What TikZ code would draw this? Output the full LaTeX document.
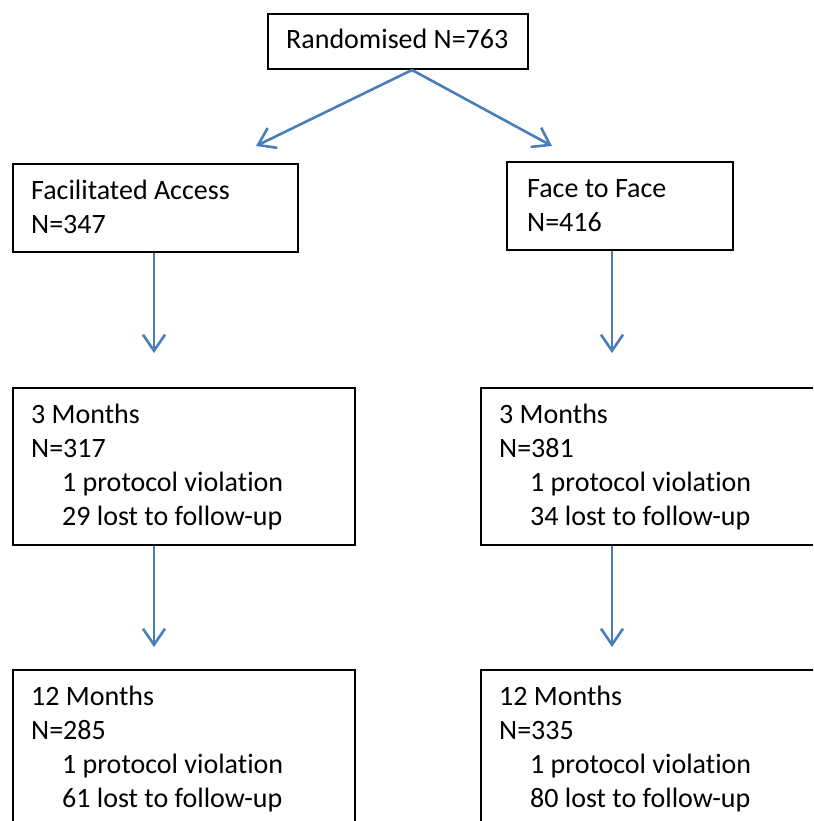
\documentclass[tikz,border=0pt]{standalone}
\usepackage{fontspec}
\setmainfont[Ligatures={NoCommon}]{Carlito}
\usetikzlibrary{positioning,arrows.meta}
\definecolor{flowblue}{HTML}{4A7EBB}
\newcommand{\indline}{\hspace*{31pt}}

\begin{document}
\begin{tikzpicture}[x=1pt,y=-1pt,
    box/.style={draw=black,line width=2pt,rectangle,anchor=north west,inner sep=0},
    txt/.style={font=\fontsize{28}{34}\selectfont,inner sep=0,anchor=base west},
    flow/.style={draw=flowblue,line width=2.6pt,-{Straight Barb[length=16pt,width=22pt]}}]
    \useasboundingbox (0,0) rectangle (813,821);
    \clip (0,0) rectangle (813,821);
    \node[box,minimum width=260,minimum height=55] (rand) at (267,13) {};
    \node[txt] (randtxt) at ([shift={(19,36)}]rand.north west) {Randomised N=763};
    \node[box,minimum width=285,minimum height=88] (fa) at (12,163) {};
    \node[txt] (fatxt) at ([shift={(19,36)}]fa.north west) {\parbox[t]{260pt}{Facilitated Access\\N=347}};
    \node[box,minimum width=226,minimum height=88] (ff) at (506,161) {};
    \node[txt] (fftxt) at ([shift={(21,36)}]ff.north west) {\parbox[t]{200pt}{Face to Face\\N=416}};
    \node[box,minimum width=342,minimum height=157] (mtl) at (12,387) {};
    \node[txt] (mtltxt) at ([shift={(19,36)}]mtl.north west) {\parbox[t]{320pt}{3 Months\\N=317\\\indline1 protocol violation\\\indline29 lost to follow-up}};
    \node[box,minimum width=345,minimum height=157] (mtr) at (480,387) {};
    \node[txt] (mtrtxt) at ([shift={(19,36)}]mtr.north west) {\parbox[t]{320pt}{3 Months\\N=381\\\indline1 protocol violation\\\indline34 lost to follow-up}};
    \node[box,minimum width=342,minimum height=170] (mwl) at (12,669) {};
    \node[txt] (mwltxt) at ([shift={(19,36)}]mwl.north west) {\parbox[t]{320pt}{12 Months\\N=285\\\indline1 protocol violation\\\indline61 lost to follow-up}};
    \node[box,minimum width=345,minimum height=170] (mwr) at (480,669) {};
    \node[txt] (mwrtxt) at ([shift={(19,36)}]mwr.north west) {\parbox[t]{320pt}{12 Months\\N=335\\\indline1 protocol violation\\\indline80 lost to follow-up}};
    \coordinate (split) at ([xshift=14]rand.south);
    \coordinate (faend) at (256,146);
    \coordinate (ffend) at (552,146);
    \coordinate (fatip) at (154,353);
    \coordinate (fftip) at (612,353);
    \coordinate (mtltip) at (154,647);
    \coordinate (mtrtip) at (612,647);
    \draw[flow] (split) -- (faend);
    \draw[flow] (split) -- (ffend);
    \draw[flow] (fa.south -| fatip) -- (fatip);
    \draw[flow] (ff.south -| fftip) -- (fftip);
    \draw[flow] (mtl.south -| mtltip) -- (mtltip);
    \draw[flow] (mtr.south -| mtrtip) -- (mtrtip);
\end{tikzpicture}
\end{document}
